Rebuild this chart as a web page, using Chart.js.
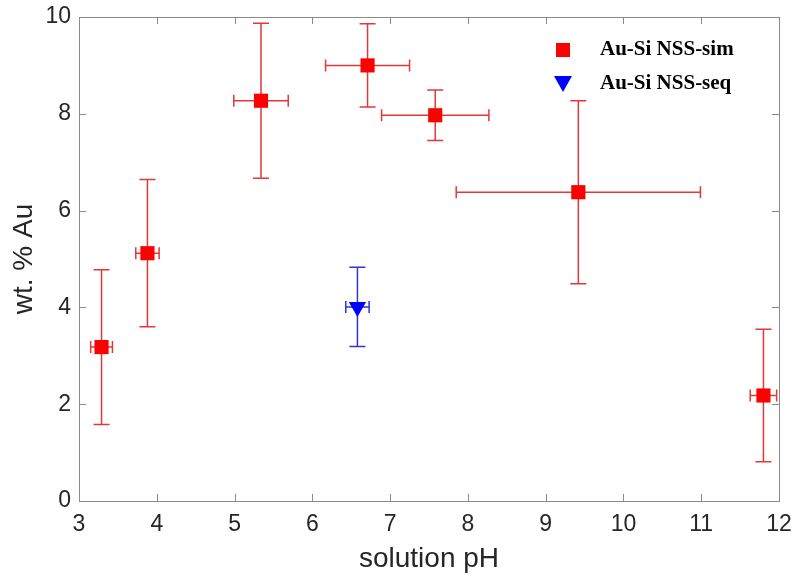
<!DOCTYPE html>
<html>
<head>
<meta charset="utf-8">
<script src="https://cdn.jsdelivr.net/npm/chart.js@4/dist/chart.umd.min.js"></script>
<style>
  html, body { margin: 0; padding: 0; background: #fff; }
  #wrap { width: 793px; height: 577px; position: relative; }
</style>
</head>
<body>
<div id="wrap"><canvas id="c"></canvas></div>
<script>
// Au content vs solution pH.
const SIM_PH   = [3.29, 3.88, 5.34, 6.71, 7.58, 9.42, 11.80];
const SIM_WT   = [3.18, 5.12, 8.27, 9.00, 7.97, 6.38, 2.18];
const SIM_XERR = [0.14, 0.15, 0.35, 0.54, 0.69, 1.57, 0.17];
const SIM_YERR = [1.60, 1.52, 1.60, 0.86, 0.52, 1.89, 1.37];

const SEQ_PH   = [6.58];
const SEQ_WT   = [4.01];
const SEQ_XERR = [0.15];
const SEQ_YERR = [0.82];

const X_TICKS = [3, 4, 5, 6, 7, 8, 9, 10, 11, 12];
const Y_TICKS = [0, 2, 4, 6, 8, 10];

const LEGEND = ["Au-Si NSS-sim", "Au-Si NSS-seq"];

const FONT = "'Liberation Sans', Helvetica, Arial, sans-serif";
const INK = "#262626";
const AXIS = "#8a8a8a";

const pts = (xs, ys) => xs.map((x, i) => ({ x, y: ys[i] }));

// error bars with caps, drawn under the markers
const errorBars = {
  id: "errorBars",
  beforeDatasetsDraw(chart) {
    const { ctx, scales: { x, y } } = chart;
    ctx.save();
    chart.data.datasets.forEach(ds => {
      ctx.strokeStyle = ds.errColor;
      ctx.lineWidth = 1.5;
      ds.data.forEach((p, i) => {
        const px = x.getPixelForValue(p.x), py = y.getPixelForValue(p.y);
        const x0 = x.getPixelForValue(p.x - ds.xErr[i]), x1 = x.getPixelForValue(p.x + ds.xErr[i]);
        const y0 = y.getPixelForValue(p.y - ds.yErr[i]), y1 = y.getPixelForValue(p.y + ds.yErr[i]);
        ctx.beginPath();
        ctx.moveTo(px, y0); ctx.lineTo(px, y1);
        ctx.moveTo(px - 8, y0); ctx.lineTo(px + 8, y0);
        ctx.moveTo(px - 8, y1); ctx.lineTo(px + 8, y1);
        ctx.moveTo(x0, py); ctx.lineTo(x1, py);
        ctx.moveTo(x0, py - 6); ctx.lineTo(x0, py + 6);
        ctx.moveTo(x1, py - 6); ctx.lineTo(x1, py + 6);
        ctx.stroke();
      });
    });
    ctx.restore();
  },
};

// matlab style box with inward ticks, plus the legend
const boxAndLegend = {
  id: "boxAndLegend",
  afterDatasetsDraw(chart) {
    const { ctx, chartArea: a, scales: { x, y } } = chart;
    ctx.save();
    ctx.strokeStyle = AXIS;
    ctx.lineWidth = 1;
    ctx.strokeRect(a.left + 0.5, a.top + 0.5, a.right - a.left, a.bottom - a.top);
    ctx.beginPath();
    X_TICKS.forEach(v => {
      const px = Math.round(x.getPixelForValue(v)) + 0.5;
      ctx.moveTo(px, a.bottom); ctx.lineTo(px, a.bottom - 7);
      ctx.moveTo(px, a.top); ctx.lineTo(px, a.top + 7);
    });
    Y_TICKS.forEach(v => {
      const py = Math.round(y.getPixelForValue(v)) + 0.5;
      ctx.moveTo(a.left, py); ctx.lineTo(a.left + 7, py);
      ctx.moveTo(a.right, py); ctx.lineTo(a.right - 7, py);
    });
    ctx.stroke();

    // legend
    const lx = 563, ly = [50, 84];
    ctx.fillStyle = "#ff0000";
    ctx.fillRect(lx - 7, ly[0] - 7, 14, 14);
    ctx.fillStyle = "#0000ff";
    ctx.beginPath();
    ctx.moveTo(lx - 9, ly[1] - 8); ctx.lineTo(lx + 9, ly[1] - 8); ctx.lineTo(lx, ly[1] + 8);
    ctx.closePath(); ctx.fill();
    ctx.fillStyle = "#000";
    ctx.font = "bold 21px 'Liberation Serif', 'Times New Roman', serif";
    ctx.textBaseline = "middle";
    ctx.fillText(LEGEND[0], 600, ly[0]);
    ctx.fillText(LEGEND[1], 600, ly[1]);
    ctx.restore();
  },
};

new Chart(document.getElementById("c"), {
  type: "scatter",
  data: {
    datasets: [
      {
        label: LEGEND[0], data: pts(SIM_PH, SIM_WT), xErr: SIM_XERR, yErr: SIM_YERR,
        errColor: "#e0393a", pointStyle: "rect", pointRadius: 10, pointHoverRadius: 10,
        backgroundColor: "#ff0000", borderColor: "#ff0000", borderWidth: 0,
      },
      {
        label: LEGEND[1], data: pts(SEQ_PH, SEQ_WT), xErr: SEQ_XERR, yErr: SEQ_YERR,
        errColor: "#2f35d6", pointStyle: "triangle", rotation: 180, pointRadius: 10, pointHoverRadius: 10,
        backgroundColor: "#0000ff", borderColor: "#0000ff", borderWidth: 0,
      },
    ],
  },
  plugins: [errorBars, boxAndLegend],
  options: {
    responsive: true, maintainAspectRatio: false, animation: false,
    layout: { padding: { top: 17, right: 14, left: 0, bottom: 0 } },
    plugins: { legend: { display: false }, tooltip: { enabled: false } },
    scales: {
      x: {
        type: "linear", min: 3, max: 12,
        afterFit: s => { s.height = 76; s.paddingLeft = 0; s.paddingRight = 0; },
        afterBuildTicks: s => { s.ticks = X_TICKS.map(v => ({ value: v })); },
        grid: { display: false, drawTicks: false },
        border: { display: false },
        ticks: { color: INK, padding: 10, font: { family: FONT, size: 23 }, maxRotation: 0 },
        title: { display: true, text: "solution pH", color: INK, padding: { bottom: 1 },
                 font: { family: FONT, size: 28 } },
      },
      y: {
        type: "linear", min: 0, max: 10,
        afterFit: s => { s.width = 79; s.paddingTop = 0; s.paddingBottom = 0; },
        afterBuildTicks: s => { s.ticks = Y_TICKS.map(v => ({ value: v })); },
        grid: { display: false, drawTicks: false },
        border: { display: false },
        ticks: { color: INK, padding: 8, font: { family: FONT, size: 23 } },
        title: { display: true, text: "wt. % Au", color: INK, padding: { top: 7 },
                 font: { family: FONT, size: 28 } },
      },
    },
  },
});
</script>
</body>
</html>
